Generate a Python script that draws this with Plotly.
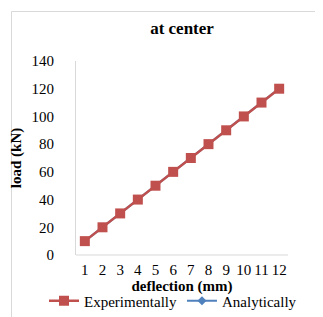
import plotly.graph_objects as go

deflection = ["1", "2", "3", "4", "5", "6", "7", "8", "9", "10", "11", "12"]
experimentally = [10, 20, 30, 40, 50, 60, 70, 80, 90, 100, 110, 120]
analytically = [10, 20, 30, 40, 50, 60, 70, 80, 90, 100, 110, 120]

W, H = 323, 317
L, R, T, B = 68, 43, 53, 70
pw, ph = W - L - R, H - T - B

font = "Liberation Serif, Times New Roman, serif"
fig = go.Figure()
fig.add_trace(go.Scatter(x=deflection, y=analytically, name="Analytically", mode="lines+markers",
                         line=dict(color="#4F81BD", width=2.2),
                         marker=dict(symbol="diamond", size=7, color="#4F81BD")))
fig.add_trace(go.Scatter(x=deflection, y=experimentally, name="Experimentally", mode="lines+markers",
                         line=dict(color="#C0504D", width=2.5),
                         marker=dict(symbol="square", size=10, color="#C0504D")))

def px(x):
    return (x - L) / pw

def py(y):
    return (H - B - y) / ph

fig.update_layout(
    width=W, height=H,
    margin=dict(l=L, r=R, t=T, b=B, autoexpand=False),
    paper_bgcolor="white", plot_bgcolor="white",
    font=dict(family=font, size=15, color="black"),
    title=dict(text="<b>at center</b>", x=0.5, xref="paper", y=1 - 20 / H, yanchor="middle",
               font=dict(family=font, size=17, color="black")),
    xaxis=dict(type="category", range=[-0.5, 11.5], dtick=1, tickmode="linear", tick0=0,
               showgrid=False, showline=False,
               zeroline=False, ticks="", ticklabelstandoff=4, automargin=False,
               tickfont=dict(family=font, size=15),
               title=dict(text="<b>deflection (mm)</b>", standoff=0,
                          font=dict(family=font, size=15))),
    yaxis=dict(range=[0, 140], dtick=20, showgrid=False, showline=True, linecolor="#D9D9D9",
               zeroline=False, ticks="", ticklabelstandoff=18, automargin=False,
               tickfont=dict(family=font, size=15),
               title=dict(text="<b>load (kN)</b>", standoff=8,
                          font=dict(family=font, size=15))),
    legend=dict(orientation="h", x=px(36), xanchor="left", xref="paper",
                y=py(293), yanchor="middle",
                traceorder="reversed", font=dict(family=font, size=15),
                bgcolor="rgba(0,0,0,0)", tracegroupgap=0),
    showlegend=True,
    shapes=[
        dict(type="line", xref="paper", yref="paper", x0=0, x1=1, y0=0, y1=0,
             line=dict(color="#D9D9D9", width=1)),
        dict(type="rect", xref="paper", yref="paper", x0=px(3.5), x1=px(317.5), y0=py(3.5), y1=py(312.5),
             line=dict(color="#D9D9D9", width=1), layer="below"),
    ],
)
fig.write_html("out.html")
